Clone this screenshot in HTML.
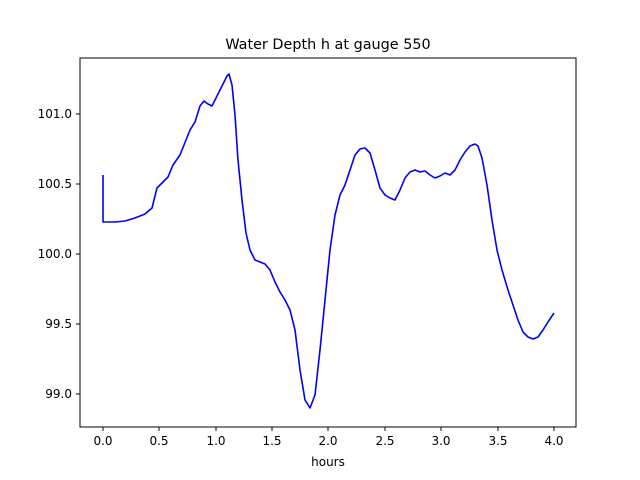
<!DOCTYPE html>
<html><head><style>body{margin:0;background:#fff}svg{display:block}text{font-family:"DejaVu Sans","Liberation Sans",sans-serif}</style></head><body>
<svg width="640" height="480" viewBox="0 0 640 480">
<rect x="80" y="58" width="496" height="369" fill="#fff" stroke="#000" stroke-width="1"/>
<text x="328" y="49" font-size="14.4" text-anchor="middle">Water Depth h at gauge 550</text>
<g stroke="#000" stroke-width="1">
<line x1="103" y1="427" x2="103" y2="431"/><line x1="159" y1="427" x2="159" y2="431"/><line x1="216" y1="427" x2="216" y2="431"/><line x1="272" y1="427" x2="272" y2="431"/><line x1="328" y1="427" x2="328" y2="431"/><line x1="385" y1="427" x2="385" y2="431"/><line x1="441" y1="427" x2="441" y2="431"/><line x1="498" y1="427" x2="498" y2="431"/><line x1="554" y1="427" x2="554" y2="431"/>
<line x1="76" y1="114" x2="80" y2="114"/><line x1="76" y1="184" x2="80" y2="184"/><line x1="76" y1="254" x2="80" y2="254"/><line x1="76" y1="324" x2="80" y2="324"/><line x1="76" y1="394" x2="80" y2="394"/>
</g>
<g font-size="12" text-anchor="middle">
<text x="103" y="445">0.0</text><text x="159" y="445">0.5</text><text x="216" y="445">1.0</text><text x="272" y="445">1.5</text><text x="328" y="445">2.0</text><text x="385" y="445">2.5</text><text x="441" y="445">3.0</text><text x="498" y="445">3.5</text><text x="554" y="445">4.0</text>
<text x="328" y="466">hours</text>
</g>
<g font-size="12" text-anchor="end">
<text x="72" y="118">101.0</text><text x="72" y="188">100.5</text><text x="72" y="258">100.0</text><text x="72" y="328">99.5</text><text x="72" y="398">99.0</text>
</g>
<polyline fill="none" stroke="#0000ff" stroke-width="1.6" stroke-linejoin="round" points="103,175 103,222 115,222 125,221 135,218 145,214 152,208 157,188 163,182 168,177 173,165 180,155 186,140 190,130 195,122 200,106 204,101 208,104 212,106 216,98 222,86 227,76 229,74 232,85 235,115 238,160 242,200 246,233 250,250 255,260 260,262 265,264 270,270 275,282 280,292 285,300 290,310 295,330 300,370 305,400 310,408 315,395 320,350 325,300 330,250 335,215 340,195 345,185 350,170 355,155 360,149 365,148 370,153 375,170 380,188 385,195 390,198 395,200 400,190 405,178 410,172 415,170 420,172 425,171 430,175 435,178 440,176 445,173 450,175 455,170 460,160 465,152 470,146 475,144 478,146 482,158 487,185 492,220 497,250 502,270 508,290 513,305 518,320 523,332 528,337 533,339 538,337 543,330 548,322 554,313"/>
</svg>
</body></html>
